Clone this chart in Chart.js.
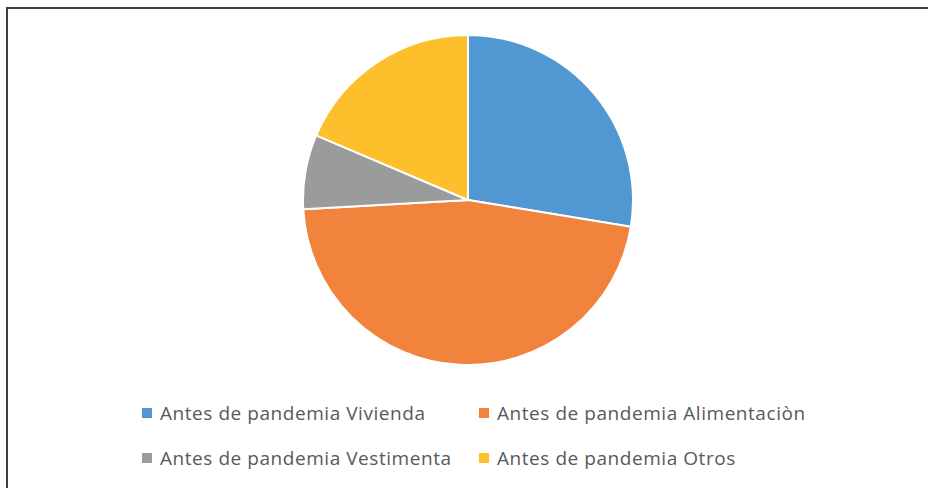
<!DOCTYPE html>
<html>
<head>
<meta charset="utf-8">
<script src="https://cdn.jsdelivr.net/npm/chart.js@4"></script>
<style>
  html, body { margin: 0; padding: 0; background: #fff; }
  #frame { position: absolute; left: 0; top: 0; width: 928px; height: 488px; overflow: hidden; }
  #edge { position: absolute; left: 6px; top: 7px; right: -4px; bottom: -4px;
          border-top: 2px solid #3c3c3c; border-left: 2px solid #3c3c3c; }
  #pie { position: absolute; left: 302px; top: 34px; width: 332px; height: 332px; }
  .lg { position: absolute; font-family: "Open Sans", sans-serif;
        font-size: 19px; letter-spacing: 0.55px; color: #595959;
        white-space: nowrap; line-height: 22px; }
  .lg i { position: absolute; left: -18px; top: 6px; width: 10px; height: 10px; }
</style>
</head>
<body>
<div id="frame">
  <div id="edge"></div>
  <div id="pie"><canvas id="chart"></canvas></div>
  <div id="legend"></div>
</div>
<script>
/* ── data ── */
const LABELS = [
  'Antes de pandemia Vivienda',
  'Antes de pandemia Alimentaciòn',
  'Antes de pandemia Vestimenta',
  'Antes de pandemia Otros',
];
const VALUES = [27.6, 46.5, 7.3, 18.6];
const COLORS = ['#5198d2', '#f1833d', '#9a9c9c', '#fdbf2b'];

/* ── legend (2 x 2 grid, Excel style) ── */
const legendPos = [[160, 402], [497, 402], [160, 447], [497, 447]];
const legendEl = document.getElementById('legend');
LABELS.forEach((lab, i) => {
  const d = document.createElement('div');
  d.className = 'lg';
  d.style.left = legendPos[i][0] + 'px';
  d.style.top = legendPos[i][1] + 'px';
  d.innerHTML = '<i style="background:' + COLORS[i] + '"></i>';
  d.appendChild(document.createTextNode(lab));
  legendEl.appendChild(d);
});

/* ── pie ── */
new Chart(document.getElementById('chart'), {
  type: 'pie',
  data: {
    labels: LABELS,
    datasets: [{
      data: VALUES,
      backgroundColor: COLORS,
      borderColor: '#ffffff',
      borderWidth: 2,
      hoverOffset: 0,
    }],
  },
  options: {
    animation: false,
    responsive: true,
    maintainAspectRatio: false,
    layout: { padding: 0 },
    plugins: {
      legend: { display: false },
      tooltip: { enabled: false },
    },
  },
});
</script>
</body>
</html>
